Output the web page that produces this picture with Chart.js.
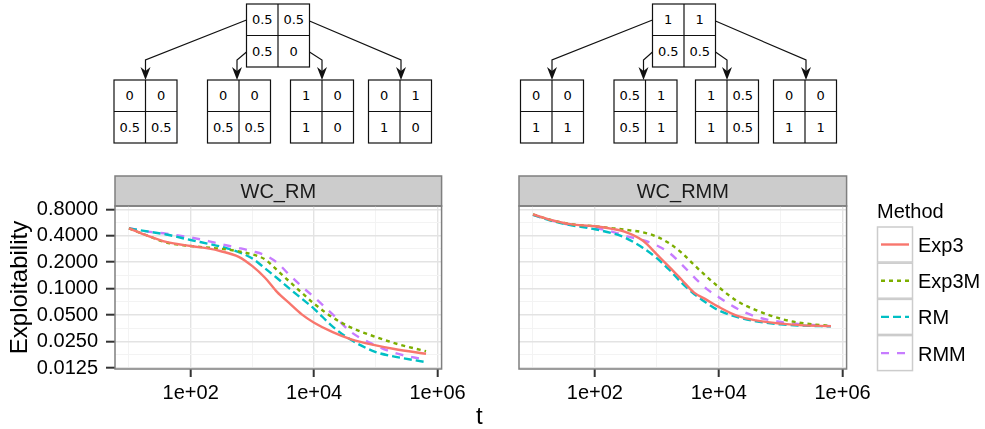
<!DOCTYPE html>
<html>
<head>
<meta charset="utf-8">
<script src="https://cdn.jsdelivr.net/npm/chart.js@4.4.0/dist/chart.umd.min.js"></script>
<style>
  html, body { margin: 0; padding: 0; background: #fff; }
  body { width: 985px; height: 429px; position: relative; overflow: hidden;
         font-family: "Liberation Sans", Arial, sans-serif; }
  #trees { position: absolute; left: 0; top: 0; }
  #leftChart { position: absolute; left: 0; top: 170px; }
  #rightChart { position: absolute; left: 470px; top: 170px; }
  #xTitle { position: absolute; left: 476px; top: 404px; font-size: 24px; line-height: 24px; color: #000; }
  #legend { position: absolute; left: 860px; top: 195px; }
</style>
</head>
<body>
<svg id="trees" width="985" height="160"></svg>
<canvas id="leftChart" width="470" height="259"></canvas>
<canvas id="rightChart" width="405" height="259"></canvas>
<div id="xTitle">t</div>
<svg id="legend" width="125" height="185"></svg>

<script>
// iterations (t) at which exploitability was read
const tValues = [10, 20, 40, 100, 200, 300, 600, 1000, 1600, 2500, 4000, 6300,
                 10000, 20000, 40000, 100000, 200000, 650000];

// WC_RM panel
const wcRmExp3  = [0.485, 0.40, 0.340, 0.305, 0.285, 0.268, 0.230, 0.180, 0.133, 0.092, 0.068, 0.051,
                   0.041, 0.032, 0.0265, 0.0226, 0.0206, 0.0182];
const wcRmExp3M = [0.485, 0.40, 0.335, 0.305, 0.292, 0.285, 0.265, 0.245, 0.215, 0.163, 0.120, 0.090,
                   0.0674, 0.047, 0.036, 0.0282, 0.024, 0.0194];
const wcRmRM    = [0.485, 0.447, 0.413, 0.357, 0.322, 0.302, 0.260, 0.220, 0.170, 0.132, 0.100, 0.077,
                   0.059, 0.037, 0.026, 0.019, 0.0169, 0.0146];
const wcRmRMM   = [0.488, 0.445, 0.422, 0.382, 0.345, 0.322, 0.290, 0.266, 0.240, 0.198, 0.143, 0.106,
                   0.080, 0.051, 0.032, 0.0226, 0.0186, 0.0155];

// WC_RMM panel
const wcRmmExp3  = [0.70, 0.60, 0.542, 0.512, 0.475, 0.445, 0.350, 0.245, 0.176, 0.127, 0.090, 0.075,
                    0.062, 0.049, 0.0435, 0.040, 0.0385, 0.0375];
const wcRmmExp3M = [0.70, 0.60, 0.542, 0.512, 0.485, 0.468, 0.437, 0.390, 0.326, 0.257, 0.186, 0.138,
                    0.104, 0.072, 0.057, 0.0455, 0.041, 0.0376];
const wcRmmRM    = [0.69, 0.59, 0.528, 0.473, 0.422, 0.382, 0.290, 0.222, 0.163, 0.117, 0.087, 0.069,
                    0.0566, 0.0475, 0.0425, 0.0392, 0.0381, 0.0372];
const wcRmmRMM   = [0.69, 0.595, 0.530, 0.490, 0.440, 0.400, 0.355, 0.310, 0.255, 0.190, 0.135, 0.100,
                    0.080, 0.059, 0.048, 0.0417, 0.0395, 0.0375];

const methods = ["Exp3", "Exp3M", "RM", "RMM"];
const methodColors = ["#F8766D", "#7CAE00", "#00BFC4", "#C77CFF"];
const methodDash = [[], [4, 4], [8, 4], [8, 8]];

// axis ticks
const yMajor = [0.0125, 0.025, 0.05, 0.1, 0.2, 0.4, 0.8];
const xMajor = [1e2, 1e4, 1e6];
const xMinor = [1e1, 1e3, 1e5];
const xLabels = ["1e+02", "1e+04", "1e+06"];

// payoff matrices in the two diagrams (row-major, 2x2)
const rmRoot = ["0.5", "0.5", "0.5", "0"];
const rmKids = [["0", "0", "0.5", "0.5"], ["0", "0", "0.5", "0.5"], ["1", "0", "1", "0"], ["0", "1", "1", "0"]];
const rmmRoot = ["1", "1", "0.5", "0.5"];
const rmmKids = [["0", "0", "1", "1"], ["0.5", "1", "0.5", "1"], ["1", "0.5", "1", "0.5"], ["0", "0", "1", "1"]];

const FONT = '"Liberation Sans", Arial, sans-serif';

// ---------- trees ----------
function matrixSvg(x, y, cells) {
  const s = 63, h = s / 2;
  let out = `<rect x="${x}" y="${y}" width="${s}" height="${s}" fill="#fff" stroke="#111" stroke-width="1.2"/>`;
  out += `<line x1="${x + h}" y1="${y}" x2="${x + h}" y2="${y + s}" stroke="#111" stroke-width="1.2"/>`;
  out += `<line x1="${x}" y1="${y + h}" x2="${x + s}" y2="${y + h}" stroke="#111" stroke-width="1.2"/>`;
  cells.forEach((c, i) => {
    const cx = x + h / 2 + (i % 2) * h;
    const cy = y + h / 2 + Math.floor(i / 2) * h;
    out += `<text x="${cx}" y="${cy + 4.5}" text-anchor="middle" font-size="13" font-family="DejaVu Sans">${c}</text>`;
  });
  return out;
}

function arrowSvg(x0, y0, x1, y1) {
  let out = `<polyline points="${x0},${y0} ${x1},${y1} ${x1},${72}" fill="none" stroke="#111" stroke-width="1.2"/>`;
  out += `<path d="M${x1 - 5},67 L${x1},80 L${x1 + 5},67 L${x1},71 Z" fill="#111"/>`;
  return out;
}

function treeSvg(rootX, kidXs, root, kids) {
  const top = 4, s = 63;
  const cx = kidXs.map(k => k + s / 2);
  let out = "";
  out += arrowSvg(rootX, top + 16, cx[0], 60);
  out += arrowSvg(rootX, top + 48, cx[1] - 2, 60);
  out += arrowSvg(rootX + s, top + 48, cx[2], 60);
  out += arrowSvg(rootX + s, top + 17, cx[3] + 1, 60);
  out += matrixSvg(rootX, top, root);
  kids.forEach((k, i) => { out += matrixSvg(kidXs[i], 80, k); });
  return out;
}

document.getElementById("trees").innerHTML =
  treeSvg(246.5, [114, 207.5, 290.5, 368.5], rmRoot, rmKids) +
  treeSvg(652.5, [520.5, 614, 695.5, 773.5], rmmRoot, rmmKids);

// ---------- legend ----------
let leg = `<text x="17" y="23" font-size="20" font-family='${FONT}'>Method</text>`;
methods.forEach((m, i) => {
  const y = 32 + i * 36.2;
  leg += `<rect x="17.5" y="${y}" width="35" height="35" fill="#fff" stroke="#cccccc" stroke-width="1.5"/>`;
  leg += `<line x1="21" y1="${y + 17.5}" x2="49" y2="${y + 17.5}" stroke="${methodColors[i]}" stroke-width="2.4"` +
         (methodDash[i].length ? ` stroke-dasharray="${methodDash[i].join(" ")}"` : "") + `/>`;
  leg += `<text x="58" y="${y + 25}" font-size="20" font-family='${FONT}'>${m}</text>`;
});
document.getElementById("legend").innerHTML = leg;

// ---------- charts ----------
const facetPlugin = {
  id: "facet",
  beforeDraw(chart, args, opts) {
    const { ctx, chartArea: a } = chart;
    ctx.save();
    ctx.fillStyle = "#cccccc";
    ctx.fillRect(a.left, a.top - 30, a.width, 30);
    ctx.strokeStyle = "#7f7f7f";
    ctx.lineWidth = 1.5;
    ctx.strokeRect(a.left, a.top - 30, a.width, 30);
    ctx.fillStyle = "#1a1a1a";
    ctx.font = "20px " + FONT;
    ctx.textAlign = "center";
    ctx.textBaseline = "middle";
    ctx.fillText(opts.label, (a.left + a.right) / 2, a.top - 14);
    ctx.restore();
  },
  afterDraw(chart) {
    const { ctx, chartArea: a } = chart;
    ctx.save();
    ctx.strokeStyle = "#7f7f7f";
    ctx.lineWidth = 1.5;
    ctx.strokeRect(a.left, a.top, a.width, a.height);
    ctx.restore();
  }
};

function makeDatasets(series) {
  return series.map((vals, i) => ({
    label: methods[i],
    data: vals.map((v, j) => ({ x: tValues[j], y: v })),
    borderColor: methodColors[i],
    borderDash: methodDash[i],
    borderWidth: 2.4,
    pointRadius: 0,
    fill: false,
    cubicInterpolationMode: "monotone"
  }));
}

const gridColor = c => (c.tick && c.tick.major ? "#e3e3e3" : "#f3f3f3");
const gridWidth = c => (c.tick && c.tick.major ? 1.4 : 1);
const tickColor = c => (c.tick && c.tick.major ? "#333" : "rgba(0,0,0,0)");

function yTicks(scale) {
  const ticks = [];
  yMajor.forEach((v, i) => {
    ticks.push({ value: v, major: true });
    if (i < yMajor.length - 1) ticks.push({ value: Math.sqrt(v * yMajor[i + 1]), major: false });
  });
  scale.ticks = ticks;
}

function xTicks(scale) {
  const ticks = xMajor.map(v => ({ value: v, major: true }))
    .concat(xMinor.map(v => ({ value: v, major: false })));
  ticks.sort((a, b) => a.value - b.value);
  scale.ticks = ticks;
}

function config(series, label, showY, yWidth, padRight) {
  return {
    type: "line",
    data: { datasets: makeDatasets(series) },
    options: {
      responsive: false,
      animation: false,
      devicePixelRatio: 1,
      layout: { padding: { top: 36, right: padRight, bottom: 0, left: 0 } },
      plugins: { legend: { display: false }, tooltip: { enabled: false }, facet: { label: label } },
      scales: {
        x: {
          type: "logarithmic",
          min: Math.pow(10, 0.774),
          max: Math.pow(10, 6.065),
          afterBuildTicks: xTicks,
          afterFit: s => { s.height = 60; },
          border: { display: false },
          grid: { color: gridColor, lineWidth: gridWidth, tickColor: tickColor, tickLength: 8, tickWidth: 2 },
          ticks: {
            autoSkip: false, maxRotation: 0, padding: 4, color: "#000",
            font: { family: FONT, size: 20 },
            callback: v => { const i = xMajor.indexOf(v); return i >= 0 ? xLabels[i] : ""; }
          }
        },
        y: {
          type: "logarithmic",
          min: 0.0122,
          max: 0.87,
          afterBuildTicks: yTicks,
          afterFit: s => { s.width = yWidth; },
          border: { display: false },
          title: {
            display: showY, text: "Exploitability", color: "#000",
            font: { family: FONT, size: 24 }, padding: { top: 6, bottom: 0 }
          },
          grid: { color: gridColor, lineWidth: gridWidth, tickColor: tickColor,
                  tickLength: 9, tickWidth: 2, drawTicks: showY },
          ticks: {
            display: showY, autoSkip: false, padding: 8, color: "#000",
            font: { family: FONT, size: 20 },
            callback: v => (yMajor.indexOf(v) >= 0 ? v.toFixed(4) : "")
          }
        }
      }
    },
    plugins: [facetPlugin]
  };
}

const leftChart = new Chart(document.getElementById("leftChart"),
  config([wcRmExp3, wcRmExp3M, wcRmRM, wcRmRMM], "WC_RM", true, 115, 27));
const rightChart = new Chart(document.getElementById("rightChart"),
  config([wcRmmExp3, wcRmmExp3M, wcRmmRM, wcRmmRMM], "WC_RMM", false, 49, 28));
</script>
</body>
</html>
